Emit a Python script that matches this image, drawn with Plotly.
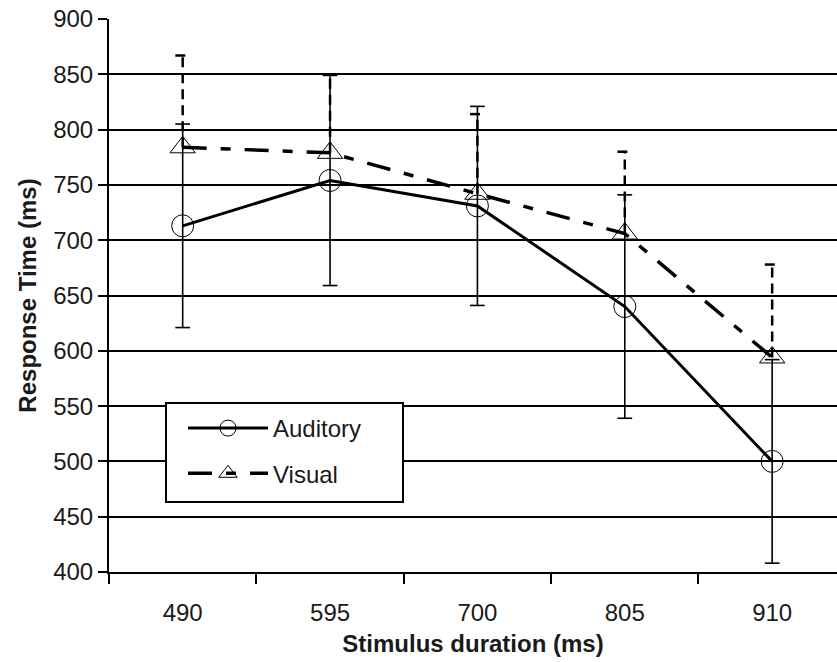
import plotly.graph_objects as go

categories = ["490", "595", "700", "805", "910"]
auditory = [713, 754, 731, 640, 500]
auditory_err = [92, 95, 90, 101, 92]
visual = [784, 779, 742, 706, 594]
visual_err_plus = [83, 71, 72, 74, 84]

xpos = list(range(len(categories)))
CAP = 0.05

def err_segments(vals, plus, minus):
    xs, ys = [], []
    for x, v, p, m in zip(xpos, vals, plus, minus):
        lo, hi = v - m, v + p
        xs += [x, x, None, x - CAP, x + CAP, None]
        ys += [lo, hi, None, hi, hi, None]
        if m > 0:
            xs += [x - CAP, x + CAP, None]
            ys += [lo, lo, None]
    return xs, ys

FONT = "Liberation Sans, Arial, sans-serif"
TXT = "#1a1a1a"
FS = 24
fig = go.Figure()

vx, vy = err_segments(visual, visual_err_plus, [0] * len(visual))
fig.add_trace(go.Scatter(x=vx, y=vy, mode="lines", showlegend=False, hoverinfo="skip",
                         line=dict(color="black", width=2.5, dash="10px,6px")))
ax, ay = err_segments(auditory, auditory_err, auditory_err)
fig.add_trace(go.Scatter(x=ax, y=ay, mode="lines", showlegend=False, hoverinfo="skip",
                         line=dict(color="black", width=1.6)))

fig.add_trace(go.Scatter(x=xpos, y=auditory, name="Auditory", mode="lines+markers",
                         line=dict(color="black", width=3),
                         marker=dict(symbol="circle-open", size=22, color="black",
                                     line=dict(width=1, color="black")),
                         legendgroup="a"))
fig.add_trace(go.Scatter(x=xpos, y=visual, name="Visual", mode="lines+markers",
                         line=dict(color="black", width=3.5, dash="24px,14px,10px,14px"),
                         marker=dict(symbol="triangle-up-open", size=22, color="black",
                                     line=dict(width=1, color="black")),
                         legendgroup="v"))

fig.update_layout(
    width=837, height=662,
    margin=dict(l=109, r=0, t=19, b=90),
    paper_bgcolor="white", plot_bgcolor="white",
    font=dict(family=FONT, size=FS, color=TXT),
    showlegend=True,
    legend=dict(x=(183 - 109) / 728, y=(572 - 406) / 553, xanchor="left", yanchor="top",
                bgcolor="rgba(0,0,0,0)", borderwidth=0,
                font=dict(size=FS, color=TXT), tracegroupgap=11,
                itemwidth=80),
    shapes=[dict(type="rect", xref="paper", yref="paper",
                 x0=(166 - 109) / 728, x1=(403 - 109) / 728,
                 y0=(572 - 502) / 553, y1=(572 - 403) / 553,
                 fillcolor="white", line=dict(color="black", width=2), layer="above")],
)

fig.update_xaxes(
    range=[-0.5, 4.44],
    tickmode="array", tickvals=xpos, ticktext=categories,
    ticks="outside", ticklen=18, tickcolor="rgba(0,0,0,0)",
    showline=True, linecolor="black", linewidth=2,
    showgrid=False, zeroline=False,
    minor=dict(tickmode="array", tickvals=[-0.5, 0.5, 1.5, 2.5, 3.5],
               ticks="outside", ticklen=10, tickwidth=1.5, tickcolor="black", showgrid=False),
    title=dict(text="<b>Stimulus duration (ms)</b>", font=dict(size=FS, color=TXT), standoff=10),
    automargin=False,
)
fig.update_yaxes(
    range=[400, 900],
    tickmode="array", tickvals=list(range(400, 901, 50)),
    ticks="outside", ticklen=9, tickwidth=1.5, tickcolor="black",
    showline=True, linecolor="black", linewidth=2,
    showgrid=True, gridcolor="black", gridwidth=2,
    zeroline=False, ticklabeloverflow="allow",
    title=dict(text="<b>Response Time (ms)</b>", font=dict(size=FS, color=TXT), standoff=10),
    automargin=False,
)

fig.write_html("out.html", config={"displayModeBar": False},
               post_script="document.body.style.margin='0';")
